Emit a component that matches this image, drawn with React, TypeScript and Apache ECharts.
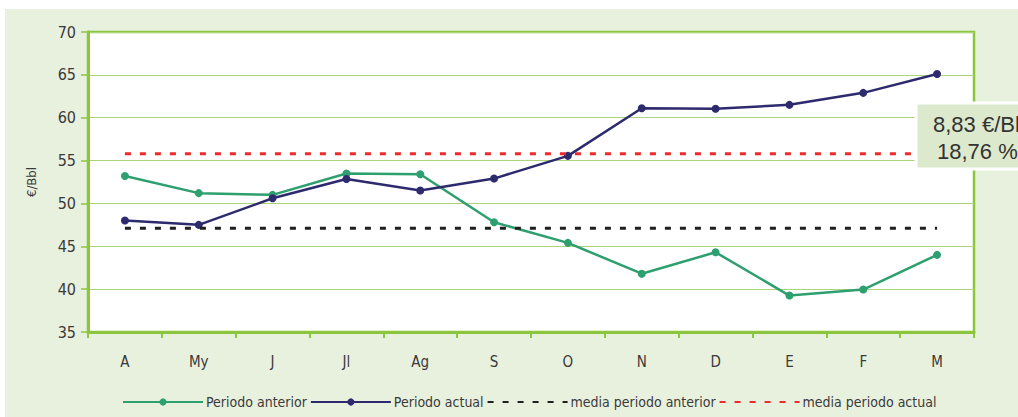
import React, { useEffect, useRef } from "react";
import * as echarts from "echarts";

const categories = ["A", "My", "J", "Jl", "Ag", "S", "O", "N", "D", "E", "F", "M"];
const periodoAnterior = [53.2, 51.2, 51.0, 53.5, 53.4, 47.8, 45.4, 41.8, 44.3, 39.25, 39.95, 44.0];
const periodoActual = [48.0, 47.5, 50.6, 52.85, 51.5, 52.9, 55.55, 61.1, 61.05, 61.5, 62.9, 65.1];
const mediaAnterior = 47.1;
const mediaActual = 55.8;
const annotationLines = ["8,83 €/Bbl", "18,76 %"];

const FONT = "'DejaVu Sans Condensed', 'Liberation Sans Narrow', sans-serif";
const GREEN_AXIS = "#8cc63f";
const GRID_GREEN = "#abd37a";
const TEXT = "#3a3a3a";

export default function App() {
  const ref = useRef<HTMLDivElement>(null);
  useEffect(() => {
    if (!ref.current) return;
    const chart = echarts.init(ref.current, undefined, { renderer: "svg" });
    const flat = (v: number) => categories.map(() => v);
    chart.setOption({
      animation: false,
      backgroundColor: "#ffffff",
      graphic: [
        {
          type: "rect",
          z: -10,
          silent: true,
          shape: { x: 5, y: 9, width: 1013, height: 408 },
          style: { fill: "#e8f1de" },
        },
        {
          type: "rect",
          z: 100,
          shape: { x: 916, y: 103, width: 110, height: 66 },
          style: { fill: "#dde9cc", stroke: "#ffffff", lineWidth: 3 },
        },
        {
          type: "text",
          z: 101,
          x: 933,
          y: 113,
          style: { text: annotationLines[0], fill: "#333333", font: "22px 'Liberation Sans', Arial, sans-serif" },
        },
        {
          type: "text",
          z: 101,
          x: 937,
          y: 140,
          style: { text: annotationLines[1], fill: "#333333", font: "22px 'Liberation Sans', Arial, sans-serif" },
        },
      ],
      grid: {
        left: 88,
        right: 44,
        top: 32,
        bottom: 85,
        show: true,
        backgroundColor: "#ffffff",
        borderColor: GREEN_AXIS,
        borderWidth: 2.5,
      },
      legend: {
        left: 117,
        top: 390,
        itemWidth: 80,
        itemHeight: 9,
        itemGap: 3,
        textStyle: { fontFamily: FONT, fontSize: 14, color: TEXT, padding: [0, 0, 0, -2] },
        data: [
          { name: "Periodo anterior" },
          { name: "Periodo actual" },
          { name: "media periodo anterior", itemStyle: { opacity: 0 } },
          { name: "media periodo actual", itemStyle: { opacity: 0 } },
        ],
      },
      xAxis: {
        type: "category",
        data: categories,
        boundaryGap: true,
        axisLine: { lineStyle: { color: GREEN_AXIS, width: 3 } },
        axisTick: { show: true, length: 6, lineStyle: { color: GREEN_AXIS, width: 2 } },
        axisLabel: { fontFamily: FONT, fontSize: 15, color: TEXT, margin: 22 },
        splitLine: { show: false },
      },
      yAxis: {
        type: "value",
        min: 35,
        max: 70,
        interval: 5,
        name: "€/Bbl",
        nameLocation: "middle",
        nameRotate: 90,
        nameGap: 50,
        nameTextStyle: { fontFamily: FONT, fontSize: 13, color: TEXT },
        axisLine: { show: true, lineStyle: { color: GREEN_AXIS, width: 3 } },
        axisTick: { show: true, length: 7, lineStyle: { color: GREEN_AXIS, width: 1.5 } },
        axisLabel: { fontFamily: FONT, fontSize: 16, color: TEXT, margin: 12 },
        splitLine: { show: true, lineStyle: { color: GRID_GREEN, width: 1 } },
      },
      series: [
        {
          name: "Periodo anterior",
          type: "line",
          data: periodoAnterior,
          symbol: "circle",
          symbolSize: 8,
          color: "#2e9f6f",
          lineStyle: { color: "#2e9f6f", width: 2.5 },
          itemStyle: { color: "#2e9f6f" },
          z: 3,
        },
        {
          name: "Periodo actual",
          type: "line",
          data: periodoActual,
          symbol: "circle",
          symbolSize: 8,
          color: "#2d2a6e",
          lineStyle: { color: "#2d2a6e", width: 2.5 },
          itemStyle: { color: "#2d2a6e" },
          z: 4,
        },
        {
          name: "media periodo anterior",
          type: "line",
          data: flat(mediaAnterior),
          symbol: "none",
          color: "#1f1f1f",
          lineStyle: { color: "#1f1f1f", width: 3, type: [6, 9] },
          z: 5,
        },
        {
          name: "media periodo actual",
          type: "line",
          data: flat(mediaActual),
          symbol: "none",
          color: "#ee2b2b",
          lineStyle: { color: "#ee2b2b", width: 3, type: [6, 9] },
          z: 5,
        },
      ],
    });
    return () => chart.dispose();
  }, []);
  return (
    <div
      ref={ref}
      style={{ position: "absolute", left: 0, top: 0, width: 1018, height: 417 }}
    />
  );
}
